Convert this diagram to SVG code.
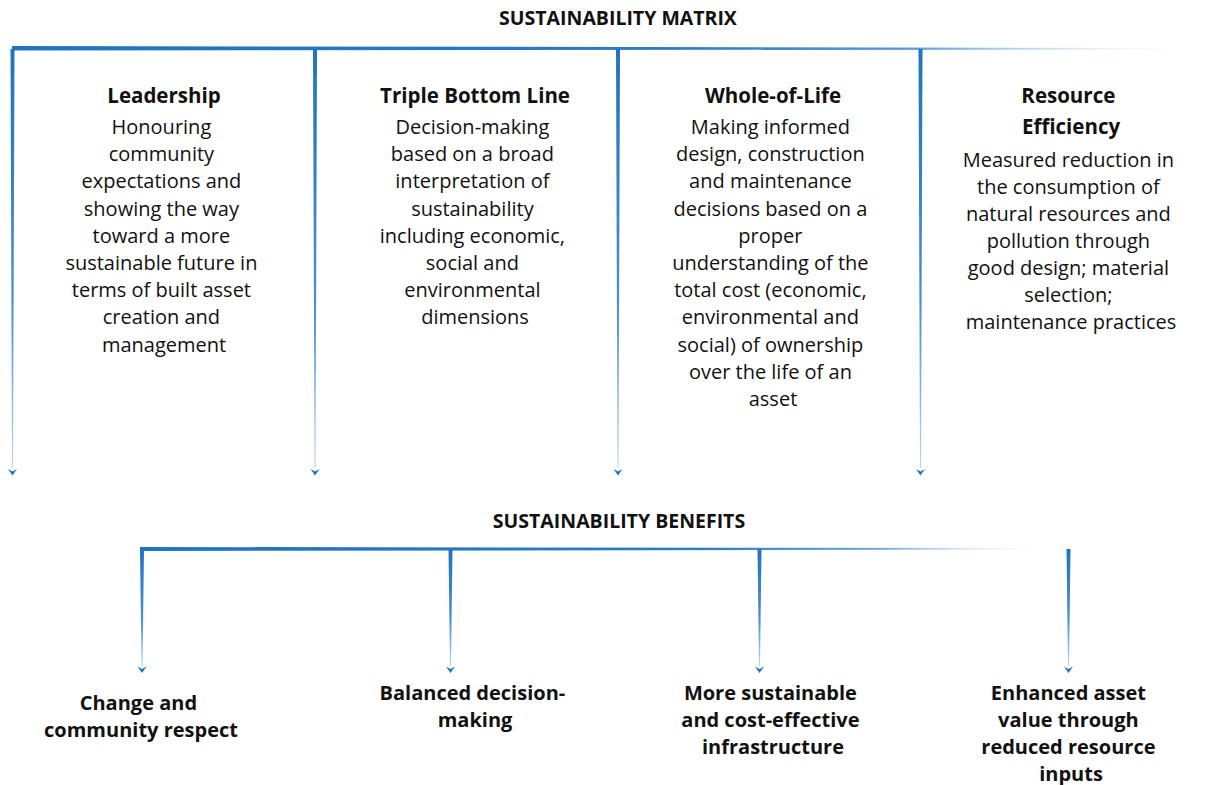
<svg xmlns="http://www.w3.org/2000/svg" width="1219" height="785" viewBox="0 0 1219 785">
<style>
.h{font-family:"Open Sans","Noto Sans","Liberation Sans",sans-serif;font-weight:bold;fill:#111;text-anchor:middle}
.t{font-size:20.5px}
.b{font-family:"Open Sans","Noto Sans","Liberation Sans",sans-serif;font-size:20px;fill:#111;text-anchor:middle}
.big{font-size:20px}
.ttl{font-size:19.5px}
.arr{fill:#1f74bf}
</style>
<defs>
<linearGradient id="hg1" x1="12" y1="0" x2="1215" y2="0" gradientUnits="userSpaceOnUse">
<stop offset="0" stop-color="#1f74bf"/>
<stop offset="0.55" stop-color="#2a7cc4"/>
<stop offset="0.75" stop-color="#5d9bd3"/>
<stop offset="1" stop-color="#ffffff" stop-opacity="0"/>
</linearGradient>
<linearGradient id="hg2" x1="141" y1="0" x2="1065" y2="0" gradientUnits="userSpaceOnUse">
<stop offset="0" stop-color="#1f74bf"/>
<stop offset="0.6" stop-color="#2a7cc4"/>
<stop offset="0.8" stop-color="#6ea6d8"/>
<stop offset="1" stop-color="#ffffff" stop-opacity="0"/>
</linearGradient>
<linearGradient id="vg" x1="0" y1="0" x2="0" y2="1">
<stop offset="0" stop-color="#1f74bf"/>
<stop offset="0.6" stop-color="#4b90cf"/>
<stop offset="1" stop-color="#b8d6ef"/>
</linearGradient>
</defs>

<text class="h ttl" x="618" y="25">SUSTAINABILITY MATRIX</text>
<text class="h ttl" x="619" y="528">SUSTAINABILITY BENEFITS</text>

<g id="connectors">
<polygon points="12,46 1215,48 1215,49.5 12,50.5" fill="url(#hg1)"/>
<polygon points="10.5,49 14.5,49 13,468 12,468" fill="url(#vg)"/>
<polygon points="313,49 317,49 315.5,468 314.5,468" fill="url(#vg)"/>
<polygon points="616,49 620,49 618.5,468 617.5,468" fill="url(#vg)"/>
<polygon points="918.5,49 922.5,49 921,468 920,468" fill="url(#vg)"/>
<path class="arr" d="M8,469 L12.5,471.5 L17,469 L12.5,475.5 Z"/>
<path class="arr" d="M310.5,469 L315,471.5 L319.5,469 L315,475.5 Z"/>
<path class="arr" d="M613.5,469 L618,471.5 L622.5,469 L618,475.5 Z"/>
<path class="arr" d="M916,469 L920.5,471.5 L925,469 L920.5,475.5 Z"/>

<polygon points="140,547 1065,548 1065,549.5 140,551" fill="url(#hg2)"/>
<polygon points="140,549 144,549 142.5,666 141.5,666" fill="url(#vg)"/>
<polygon points="448.5,549 452.5,549 451,666 450,666" fill="url(#vg)"/>
<polygon points="757.5,549 761.5,549 760,666 759,666" fill="url(#vg)"/>
<polygon points="1066.5,549 1070.5,549 1069,666 1068,666" fill="url(#vg)"/>
<path class="arr" d="M137.5,666.5 L142,669 L146.5,666.5 L142,673 Z"/>
<path class="arr" d="M446,666.5 L450.5,669 L455,666.5 L450.5,673 Z"/>
<path class="arr" d="M755,666.5 L759.5,669 L764,666.5 L759.5,673 Z"/>
<path class="arr" d="M1064,666.5 L1068.5,669 L1073,666.5 L1068.5,673 Z"/>
</g>

<g id="leadership">
<text class="h t" x="164" y="103">Leadership</text>
<text class="b">
<tspan x="164" y="134">Honouring</tspan>
<tspan x="164" y="161">community</tspan>
<tspan x="164" y="188">expectations and</tspan>
<tspan x="164" y="216">showing the way</tspan>
<tspan x="164" y="243">toward a more</tspan>
<tspan x="164" y="270">sustainable future in</tspan>
<tspan x="164" y="297">terms of built asset</tspan>
<tspan x="164" y="324">creation and</tspan>
<tspan x="164" y="352">management</tspan>
</text>
</g>

<g id="triple-bottom-line">
<text class="h t" x="475" y="103">Triple Bottom Line</text>
<text class="b">
<tspan x="475" y="134">Decision-making</tspan>
<tspan x="475" y="161">based on a broad</tspan>
<tspan x="475" y="188">interpretation of</tspan>
<tspan x="475" y="216">sustainability</tspan>
<tspan x="475" y="243">including economic,</tspan>
<tspan x="475" y="270">social and</tspan>
<tspan x="475" y="297">environmental</tspan>
<tspan x="475" y="324">dimensions</tspan>
</text>
</g>

<g id="whole-of-life">
<text class="h t" x="773" y="103">Whole-of-Life</text>
<text class="b">
<tspan x="773" y="134">Making informed</tspan>
<tspan x="773" y="161">design, construction</tspan>
<tspan x="773" y="188">and maintenance</tspan>
<tspan x="773" y="216">decisions based on a</tspan>
<tspan x="773" y="243">proper</tspan>
<tspan x="773" y="270">understanding of the</tspan>
<tspan x="773" y="297">total cost (economic,</tspan>
<tspan x="773" y="324">environmental and</tspan>
<tspan x="773" y="352">social) of ownership</tspan>
<tspan x="773" y="379">over the life of an</tspan>
<tspan x="773" y="406">asset</tspan>
</text>
</g>

<g id="resource-efficiency">
<text class="h t">
<tspan x="1071" y="103">Resource</tspan>
<tspan x="1071" y="134">Efficiency</tspan>
</text>
<text class="b">
<tspan x="1071" y="167">Measured reduction in</tspan>
<tspan x="1071" y="194">the consumption of</tspan>
<tspan x="1071" y="221">natural resources and</tspan>
<tspan x="1071" y="248">pollution through</tspan>
<tspan x="1071" y="275">good design; material</tspan>
<tspan x="1071" y="302">selection;</tspan>
<tspan x="1071" y="329">maintenance practices</tspan>
</text>
</g>

<g id="benefit-change">
<text class="h big">
<tspan x="141" y="710">Change and</tspan>
<tspan x="141" y="737">community respect</tspan>
</text>
</g>
<g id="benefit-balanced">
<text class="h big">
<tspan x="475" y="700">Balanced decision-</tspan>
<tspan x="475" y="727">making</tspan>
</text>
</g>
<g id="benefit-sustainable">
<text class="h big">
<tspan x="773" y="700">More sustainable</tspan>
<tspan x="773" y="727">and cost-effective</tspan>
<tspan x="773" y="754">infrastructure</tspan>
</text>
</g>
<g id="benefit-enhanced">
<text class="h big">
<tspan x="1071" y="700">Enhanced asset</tspan>
<tspan x="1071" y="727">value through</tspan>
<tspan x="1071" y="754">reduced resource</tspan>
<tspan x="1071" y="781">inputs</tspan>
</text>
</g>
</svg>
